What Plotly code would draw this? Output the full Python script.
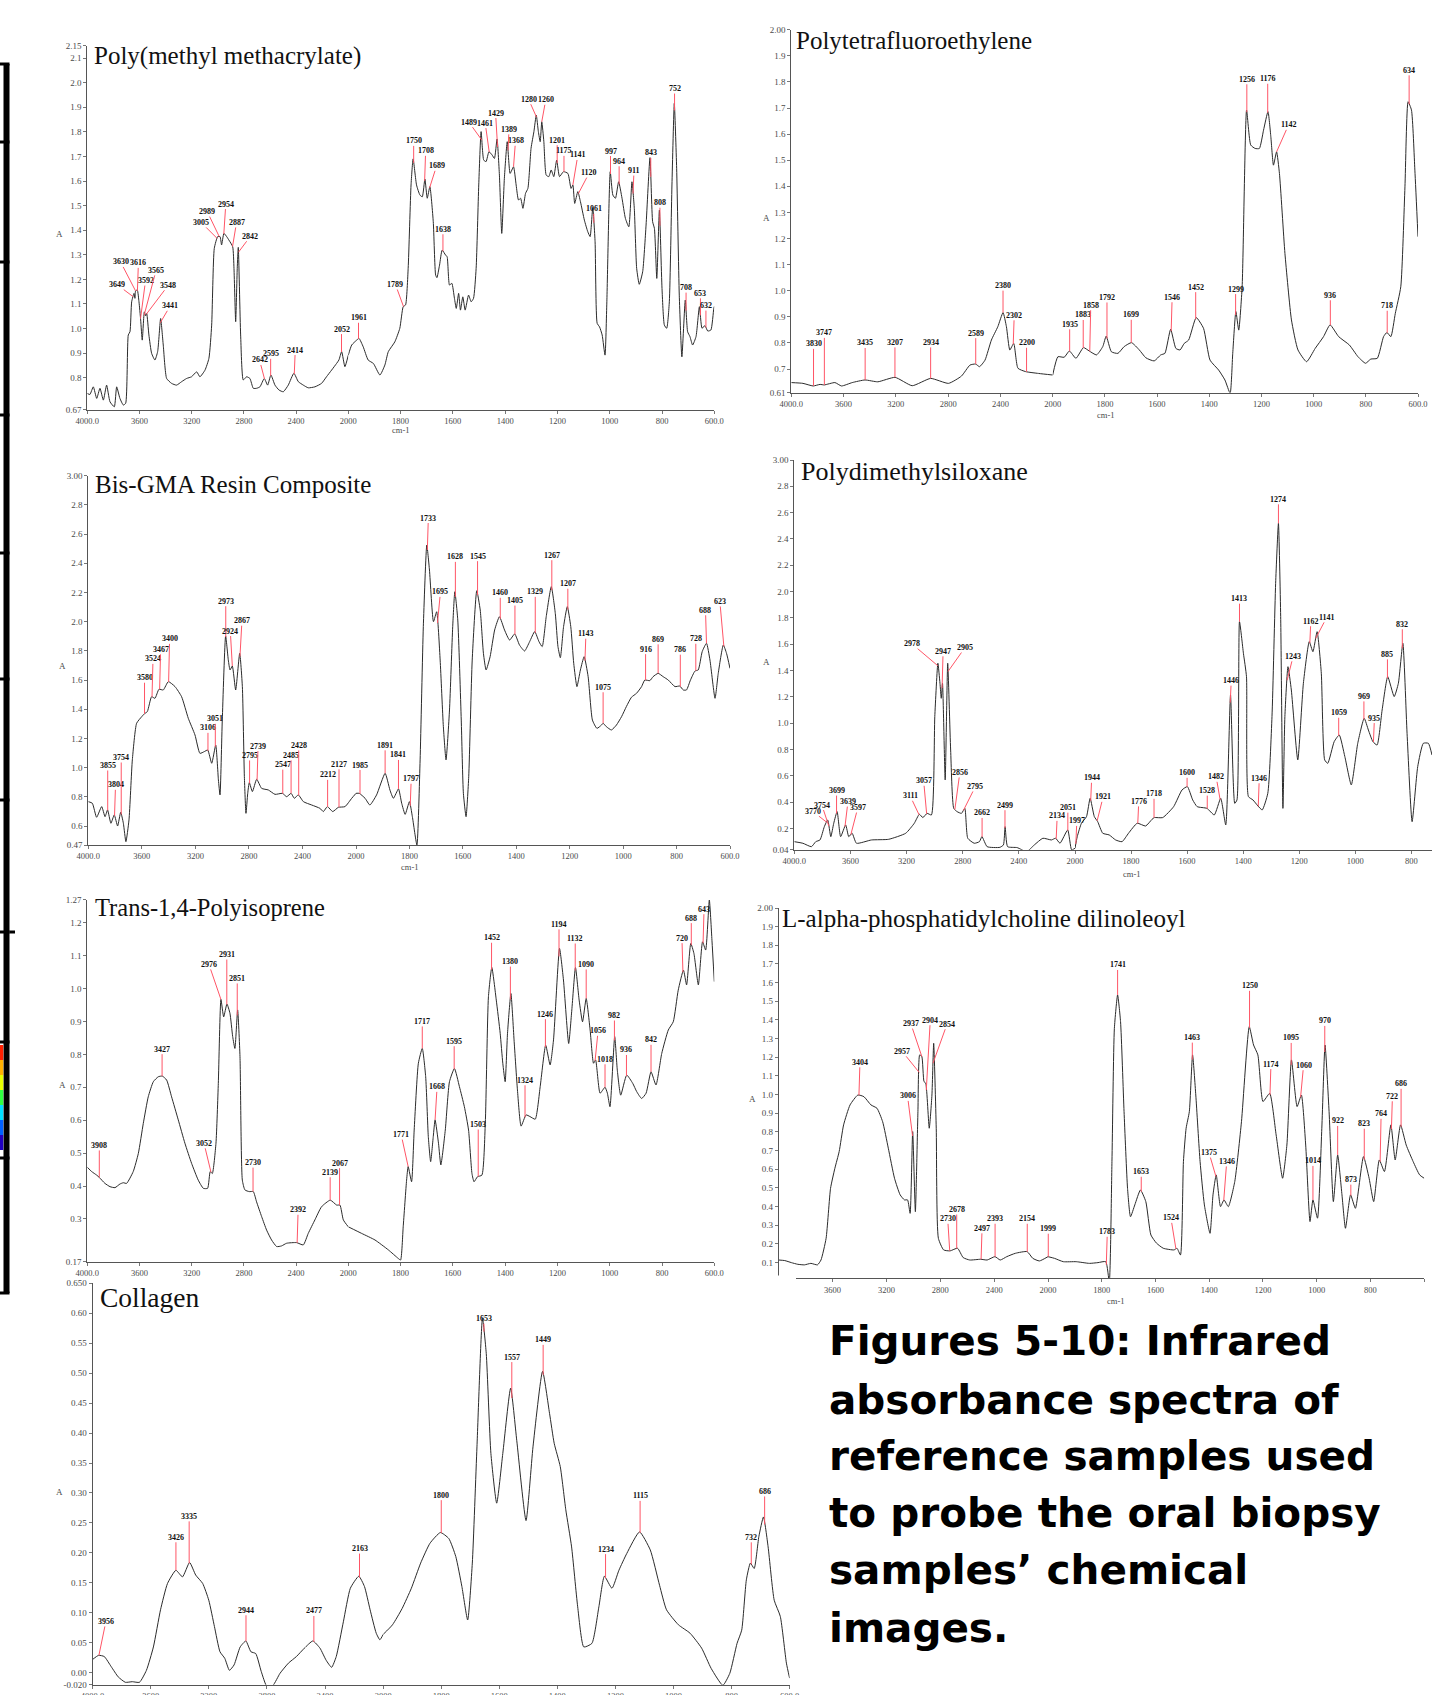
import numpy as np
import plotly.graph_objects as go

W, H = 1432, 1695

# ============================ DATA ============================
x_ticks_high = [4000, 3600, 3200, 2800, 2400, 2000]
x_ticktext_high = ["4000.0", "3600", "3200", "2800", "2400", "2000"]
x_ticks_low = [1800, 1600, 1400, 1200, 1000, 800, 600]
x_ticktext_low = ["1800", "1600", "1400", "1200", "1000", "800", "600.0"]

# ---- Poly(methyl methacrylate)
pmma_wn = [4000, 3980, 3954, 3928, 3903, 3877, 3852, 3826, 3793, 3775, 3750, 3724, 3706, 3686, 3673, 3660, 3642, 3635, 3630, 3617,
           3604, 3591, 3579, 3563, 3553, 3545, 3528, 3507, 3482, 3461, 3438, 3418, 3392, 3354, 3316, 3277, 3239, 3201, 3162, 3137,
           3098, 3068, 3047, 3027, 3001, 2983, 2971, 2953, 2932, 2915, 2886, 2876, 2863, 2851, 2843, 2825, 2805, 2779, 2754, 2728,
           2703, 2677, 2644, 2618, 2593, 2562, 2531, 2498, 2460, 2417, 2383, 2345, 2307, 2256, 2205, 2167, 2128, 2090, 2072, 2051,
           2026, 2000, 1987, 1968, 1959, 1943, 1924, 1904, 1879, 1860, 1847, 1822, 1803, 1790, 1781, 1771, 1760, 1752, 1739, 1726,
           1717, 1707, 1698, 1688, 1675, 1666, 1661, 1651, 1641, 1628, 1622, 1613, 1604, 1594, 1587, 1578, 1571, 1562, 1553, 1540,
           1530, 1521, 1511, 1501, 1492, 1482, 1473, 1462, 1450, 1441, 1431, 1422, 1413, 1403, 1392, 1381, 1368, 1358, 1349, 1341,
           1332, 1322, 1313, 1301, 1290, 1281, 1273, 1266, 1260, 1252, 1243, 1233, 1224, 1214, 1203, 1192, 1177, 1160, 1148, 1141,
           1134, 1122, 1112, 1097, 1084, 1075, 1065, 1056, 1048, 1039, 1029, 1018, 1011, 998, 988, 978, 966, 953, 940, 927,
           915, 906, 897, 887, 874, 861, 846, 836, 829, 820, 810, 800, 791, 782, 772, 762, 753, 744, 734, 724,
           711, 702, 693, 683, 670, 657, 647, 636, 625, 613, 602, 600]
pmma_abs = [0.736, 0.732, 0.763, 0.716, 0.757, 0.709, 0.770, 0.702, 0.682, 0.763, 0.716, 0.689, 0.696, 0.974, 0.987, 1.109, 1.143, 1.123, 1.153, 1.157,
            1.109, 1.035, 0.953, 1.068, 1.052, 1.062, 0.974, 0.899, 0.872, 0.906, 1.041, 0.933, 0.797, 0.777, 0.770, 0.784, 0.797, 0.804, 0.824, 0.804,
            0.831, 0.879, 1.014, 1.326, 1.374, 1.374, 1.340, 1.387, 1.374, 1.360, 1.333, 1.245, 1.028, 1.245, 1.330, 0.974, 0.791, 0.804, 0.797, 0.757,
            0.757, 0.763, 0.797, 0.770, 0.811, 0.770, 0.750, 0.743, 0.770, 0.818, 0.784, 0.770, 0.759, 0.763, 0.777, 0.804, 0.831, 0.858, 0.872, 0.906,
            0.845, 0.892, 0.933, 0.953, 0.960, 0.926, 0.872, 0.858, 0.811, 0.852, 0.906, 0.946, 1.001, 1.089, 1.096, 1.245, 1.584, 1.690, 1.584, 1.543,
            1.536, 1.608, 1.530, 1.577, 1.435, 1.218, 1.207, 1.258, 1.319, 1.299, 1.292, 1.177, 1.184, 1.123, 1.082, 1.143, 1.075, 1.129, 1.075, 1.136,
            1.109, 1.123, 1.245, 1.584, 1.801, 1.685, 1.679, 1.719, 1.706, 1.692, 1.771, 1.624, 1.387, 1.611, 1.760, 1.631, 1.658, 1.584, 1.523, 1.530,
            1.489, 1.550, 1.570, 1.733, 1.801, 1.868, 1.801, 1.760, 1.841, 1.760, 1.624, 1.618, 1.645, 1.618, 1.685, 1.618, 1.638, 1.631, 1.570, 1.584,
            1.509, 1.557, 1.516, 1.441, 1.394, 1.374, 1.492, 1.353, 1.021, 1.007, 0.974, 0.892, 1.109, 1.638, 1.543, 1.530, 1.597, 1.530, 1.448, 1.414,
            1.597, 1.489, 1.245, 1.180, 1.231, 1.421, 1.695, 1.435, 1.407, 1.204, 1.482, 1.163, 1.014, 1.001, 1.109, 1.584, 1.916, 1.652, 1.136, 0.885,
            1.116, 0.987, 0.967, 0.933, 0.967, 1.089, 1.001, 1.012, 0.990, 0.994, 1.082, 1.090]
pmma_peaks = [3649, 3630, 3616, 3592, 3565, 3548, 3441, 3005, 2989, 2954, 2887, 2842, 2642, 2595, 2414, 2052, 1961, 1789, 1750, 1708,
              1689, 1638, 1489, 1461, 1429, 1389, 1368, 1280, 1260, 1201, 1175, 1141, 1120, 1061, 997, 964, 911, 843, 808, 752,
              708, 653, 632]
pmma_yticks = [0.67, 0.8, 0.9, 1.0, 1.1, 1.2, 1.3, 1.4, 1.5, 1.6, 1.7, 1.8, 1.9, 2.0, 2.1, 2.15]
pmma_yticktext = ["0.67", "0.8", "0.9", "1.0", "1.1", "1.2", "1.3", "1.4", "1.5", "1.6", "1.7", "1.8", "1.9", "2.0", "2.1", "2.15"]

# ---- Polytetrafluoroethylene
ptfe_wn = [4000, 3911, 3833, 3780, 3748, 3666, 3616, 3534, 3436, 3338, 3206, 3075, 2934, 2797, 2698, 2633, 2590, 2560, 2518, 2469,
           2420, 2380, 2354, 2328, 2298, 2266, 2207, 2108, 2000, 1980, 1956, 1936, 1911, 1882, 1860, 1832, 1808, 1795, 1775, 1750,
           1726, 1698, 1668, 1643, 1611, 1586, 1570, 1548, 1528, 1512, 1496, 1479, 1450, 1422, 1397, 1364, 1340, 1320, 1310, 1298,
           1287, 1274, 1257, 1241, 1224, 1208, 1192, 1175, 1164, 1154, 1142, 1131, 1110, 1085, 1060, 1027, 994, 962, 937, 904,
           863, 830, 801, 781, 756, 732, 719, 704, 687, 666, 650, 638, 625, 612, 600]
ptfe_abs = [0.648, 0.645, 0.635, 0.641, 0.639, 0.648, 0.635, 0.648, 0.658, 0.651, 0.668, 0.636, 0.664, 0.645, 0.673, 0.715, 0.719, 0.709, 0.734, 0.811,
            0.862, 0.916, 0.862, 0.773, 0.798, 0.703, 0.690, 0.683, 0.677, 0.747, 0.745, 0.769, 0.741, 0.782, 0.769, 0.754, 0.786, 0.826, 0.766, 0.760,
            0.786, 0.801, 0.773, 0.743, 0.731, 0.754, 0.760, 0.852, 0.779, 0.773, 0.798, 0.811, 0.897, 0.856, 0.734, 0.696, 0.658, 0.607, 0.760, 0.920,
            0.849, 1.015, 1.692, 1.558, 1.545, 1.545, 1.615, 1.686, 1.590, 1.481, 1.532, 1.449, 1.143, 0.888, 0.773, 0.728, 0.779, 0.824, 0.869, 0.824,
            0.792, 0.747, 0.722, 0.738, 0.741, 0.824, 0.840, 0.824, 0.913, 1.015, 1.398, 1.724, 1.692, 1.462, 1.207]
ptfe_peaks = [3830, 3747, 3435, 3207, 2934, 2589, 2380, 2302, 2200, 1935, 1883, 1858, 1792, 1699, 1546, 1452, 1299, 1256, 1176, 1142,
              936, 718, 634]
ptfe_yticks = [0.61, 0.7, 0.8, 0.9, 1.0, 1.1, 1.2, 1.3, 1.4, 1.5, 1.6, 1.7, 1.8, 1.9, 2.0]
ptfe_yticktext = ["0.61", "0.7", "0.8", "0.9", "1.0", "1.1", "1.2", "1.3", "1.4", "1.5", "1.6", "1.7", "1.8", "1.9", "2.00"]

# ---- Bis-GMA Resin Composite
bis_wn = [4000, 3970, 3938, 3900, 3875, 3856, 3831, 3806, 3781, 3758, 3738, 3719, 3696, 3671, 3639, 3601, 3582, 3559, 3527, 3502,
          3472, 3440, 3402, 3352, 3303, 3253, 3203, 3166, 3133, 3108, 3078, 3048, 3028, 3016, 2999, 2974, 2954, 2941, 2924, 2899,
          2869, 2849, 2834, 2822, 2809, 2797, 2774, 2742, 2705, 2655, 2605, 2550, 2518, 2485, 2461, 2431, 2393, 2331, 2269, 2244,
          2214, 2174, 2132, 2082, 2032, 2000, 1988, 1966, 1948, 1923, 1891, 1873, 1860, 1841, 1829, 1816, 1800, 1789, 1772, 1760,
          1748, 1735, 1725, 1710, 1698, 1685, 1673, 1663, 1650, 1638, 1630, 1619, 1606, 1598, 1588, 1578, 1565, 1548, 1535, 1523,
          1513, 1498, 1481, 1463, 1444, 1425, 1406, 1388, 1369, 1350, 1331, 1315, 1303, 1288, 1269, 1254, 1244, 1235, 1223, 1209,
          1196, 1185, 1173, 1160, 1146, 1131, 1115, 1098, 1081, 1075, 1063, 1044, 1025, 1006, 988, 969, 950, 931, 919, 900,
          888, 869, 850, 831, 806, 788, 775, 763, 748, 731, 719, 704, 688, 675, 656, 644, 625, 613, 600]
bis_abs = [0.767, 0.756, 0.660, 0.733, 0.664, 0.710, 0.619, 0.676, 0.600, 0.694, 0.619, 0.493, 0.642, 1.053, 1.304, 1.349, 1.368, 1.384, 1.486, 1.475,
           1.537, 1.532, 1.589, 1.555, 1.486, 1.338, 1.224, 1.098, 1.110, 1.121, 1.030, 1.155, 0.916, 0.813, 1.326, 1.902, 1.737, 1.669, 1.696, 1.532,
           1.783, 1.555, 0.938, 0.687, 0.824, 0.897, 0.836, 0.920, 0.858, 0.847, 0.817, 0.824, 0.801, 0.824, 0.790, 0.813, 0.767, 0.744, 0.721, 0.699,
           0.733, 0.699, 0.728, 0.733, 0.790, 0.824, 0.824, 0.790, 0.744, 0.813, 0.961, 0.847, 0.790, 0.854, 0.756, 0.680, 0.767, 0.664, 0.470, 1.053,
           1.966, 2.525, 2.354, 2.000, 2.068, 1.737, 1.281, 1.053, 1.395, 1.966, 2.205, 2.011, 1.326, 0.824, 0.664, 0.938, 1.737, 2.212, 2.080, 1.783,
           1.669, 1.760, 1.943, 2.034, 1.943, 1.874, 1.916, 1.840, 1.799, 1.863, 1.932, 1.863, 1.829, 2.034, 2.240, 2.057, 1.829, 1.753, 1.966, 2.103,
           1.966, 1.715, 1.555, 1.669, 1.760, 1.623, 1.326, 1.269, 1.292, 1.304, 1.281, 1.258, 1.292, 1.349, 1.418, 1.482, 1.509, 1.555, 1.600, 1.596,
           1.623, 1.646, 1.623, 1.600, 1.555, 1.559, 1.532, 1.532, 1.600, 1.662, 1.669, 1.795, 1.852, 1.737, 1.475, 1.646, 1.840, 1.783, 1.680]
bis_peaks = [3855, 3804, 3754, 3580, 3524, 3467, 3400, 3106, 3051, 2973, 2924, 2867, 2795, 2739, 2547, 2485, 2428, 2212, 2127, 1985,
             1891, 1841, 1797, 1733, 1695, 1628, 1545, 1460, 1405, 1329, 1267, 1207, 1143, 1075, 916, 869, 786, 728, 688, 623]
bis_yticks = [0.47, 0.6, 0.8, 1.0, 1.2, 1.4, 1.6, 1.8, 2.0, 2.2, 2.4, 2.6, 2.8, 3.0]
bis_yticktext = ["0.47", "0.6", "0.8", "1.0", "1.2", "1.4", "1.6", "1.8", "2.0", "2.2", "2.4", "2.6", "2.8", "3.00"]

# ---- Polydimethylsiloxane
pdms_wn = [4000, 3939, 3878, 3847, 3817, 3786, 3762, 3740, 3719, 3695, 3670, 3634, 3612, 3588, 3557, 3450, 3328, 3206, 3145, 3109,
           3084, 3054, 3023, 2999, 2977, 2962, 2953, 2944, 2925, 2907, 2886, 2864, 2840, 2809, 2785, 2764, 2718, 2681, 2663, 2626,
           2535, 2510, 2498, 2480, 2412, 2345, 2290, 2229, 2168, 2138, 2107, 2052, 2024, 2000, 1992, 1977, 1959, 1946, 1931, 1919,
           1901, 1878, 1855, 1832, 1809, 1778, 1748, 1725, 1717, 1687, 1648, 1618, 1599, 1580, 1564, 1529, 1503, 1480, 1462, 1445,
           1430, 1422, 1413, 1399, 1388, 1381, 1365, 1347, 1332, 1312, 1297, 1284, 1274, 1266, 1258, 1251, 1240, 1228, 1205, 1185,
           1164, 1151, 1136, 1121, 1109, 1098, 1075, 1057, 1037, 1014, 991, 968, 953, 937, 922, 904, 884, 861, 846, 830,
           815, 797, 777, 757, 739, 726]
pdms_abs = [0.101, 0.089, 0.063, 0.101, 0.114, 0.215, 0.266, 0.139, 0.241, 0.329, 0.139, 0.228, 0.139, 0.165, 0.089, 0.114, 0.119, 0.165, 0.241, 0.309,
            0.284, 0.316, 0.304, 1.051, 1.456, 1.304, 1.190, 1.304, 0.570, 1.456, 0.797, 0.354, 0.329, 0.316, 0.354, 0.127, 0.089, 0.101, 0.139, 0.063,
            0.058, 0.076, 0.215, 0.063, 0.056, 0.025, 0.076, 0.127, 0.114, 0.127, 0.089, 0.190, 0.038, 0.051, 0.139, 0.241, 0.291, 0.430, 0.291, 0.253,
            0.165, 0.152, 0.114, 0.101, 0.165, 0.241, 0.220, 0.271, 0.284, 0.284, 0.367, 0.494, 0.519, 0.418, 0.367, 0.354, 0.304, 0.430, 0.228, 1.215,
            0.392, 0.418, 1.772, 1.532, 1.354, 0.443, 0.418, 0.372, 0.342, 0.468, 1.051, 2.063, 2.519, 1.810, 0.354, 1.051, 1.430, 1.253, 0.722, 1.304,
            1.620, 1.544, 1.696, 1.380, 0.722, 0.696, 0.861, 0.911, 0.747, 0.532, 0.848, 1.038, 0.949, 0.861, 0.835, 1.101, 1.354, 1.203, 1.304, 1.608,
            0.924, 0.253, 0.671, 0.848, 0.848, 0.759]
pdms_peaks = [3770, 3754, 3699, 3639, 3597, 3111, 3057, 2978, 2947, 2905, 2856, 2795, 2662, 2499, 2344, 2134, 2051, 1997, 1944, 1921,
              1776, 1718, 1600, 1528, 1482, 1446, 1413, 1346, 1274, 1243, 1162, 1141, 1059, 969, 935, 885, 832]
pdms_yticks = [0.04, 0.2, 0.4, 0.6, 0.8, 1.0, 1.2, 1.4, 1.6, 1.8, 2.0, 2.2, 2.4, 2.6, 2.8, 3.0]
pdms_yticktext = ["0.04", "0.2", "0.4", "0.6", "0.8", "1.0", "1.2", "1.4", "1.6", "1.8", "2.0", "2.2", "2.4", "2.6", "2.8", "3.00"]

# ---- Trans-1,4-Polyisoprene
trans_wn = [4000, 3967, 3928, 3908, 3865, 3826, 3788, 3750, 3724, 3699, 3648, 3609, 3571, 3533, 3494, 3456, 3425, 3392, 3354, 3303,
            3252, 3201, 3150, 3111, 3078, 3058, 3042, 3014, 2996, 2976, 2955, 2930, 2907, 2886, 2869, 2848, 2830, 2812, 2792, 2759,
            2728, 2703, 2664, 2626, 2588, 2549, 2511, 2473, 2396, 2345, 2307, 2256, 2205, 2138, 2089, 2064, 2038, 2000, 1949, 1898,
            1847, 1809, 1800, 1790, 1777, 1771, 1758, 1748, 1732, 1717, 1704, 1694, 1685, 1675, 1668, 1655, 1646, 1629, 1613, 1594,
            1575, 1556, 1540, 1527, 1519, 1506, 1489, 1476, 1464, 1451, 1434, 1419, 1409, 1400, 1391, 1378, 1366, 1353, 1339, 1320,
            1305, 1285, 1266, 1245, 1228, 1215, 1192, 1177, 1157, 1145, 1131, 1117, 1104, 1090, 1075, 1062, 1054, 1037, 1018, 1009,
            999, 981, 971, 958, 935, 912, 897, 878, 861, 842, 823, 801, 776, 757, 738, 718, 706, 690, 678, 661,
            645, 633, 619, 609, 600]
trans_abs = [0.457, 0.444, 0.433, 0.426, 0.408, 0.398, 0.395, 0.406, 0.410, 0.408, 0.444, 0.499, 0.590, 0.671, 0.717, 0.732, 0.734, 0.722, 0.671, 0.601,
             0.530, 0.469, 0.418, 0.393, 0.393, 0.444, 0.438, 0.530, 0.712, 0.967, 0.914, 0.953, 0.925, 0.854, 0.818, 0.935, 0.793, 0.418, 0.388, 0.383,
             0.383, 0.352, 0.307, 0.266, 0.236, 0.216, 0.218, 0.226, 0.228, 0.221, 0.256, 0.297, 0.337, 0.357, 0.342, 0.342, 0.297, 0.276, 0.256, 0.236,
             0.206, 0.180, 0.175, 0.276, 0.418, 0.459, 0.413, 0.570, 0.773, 0.818, 0.732, 0.550, 0.474, 0.550, 0.601, 0.530, 0.464, 0.570, 0.717, 0.757,
             0.702, 0.641, 0.570, 0.438, 0.413, 0.428, 0.433, 0.590, 0.975, 1.064, 0.965, 0.864, 0.773, 0.717, 0.864, 0.985, 0.844, 0.692, 0.582, 0.616,
             0.611, 0.603, 0.702, 0.828, 0.768, 0.844, 1.122, 1.026, 0.833, 0.935, 1.064, 0.965, 0.899, 0.970, 0.874, 0.773, 0.783, 0.682, 0.700, 0.682,
             0.641, 0.854, 0.752, 0.676, 0.737, 0.712, 0.687, 0.666, 0.682, 0.747, 0.707, 0.803, 0.874, 0.899, 0.995, 1.056, 1.011, 1.137, 1.107, 1.011,
             1.142, 1.117, 1.269, 1.147, 1.021]
trans_peaks = [3908, 3427, 3052, 2976, 2931, 2851, 2730, 2392, 2139, 2067, 1771, 1717, 1668, 1595, 1503, 1452, 1380, 1324, 1246, 1194,
               1132, 1090, 1056, 1018, 982, 936, 842, 720, 688, 643]
trans_yticks = [0.17, 0.3, 0.4, 0.5, 0.6, 0.7, 0.8, 0.9, 1.0, 1.1, 1.2, 1.27]
trans_yticktext = ["0.17", "0.3", "0.4", "0.5", "0.6", "0.7", "0.8", "0.9", "1.0", "1.1", "1.2", "1.27"]

# ---- L-alpha-phosphatidylcholine dilinoleoyl
lpc_wn = [4000, 3955, 3906, 3858, 3809, 3761, 3712, 3686, 3648, 3615, 3583, 3551, 3518, 3470, 3412, 3367, 3315, 3270, 3228, 3186,
          3140, 3098, 3066, 3043, 3024, 3005, 2985, 2966, 2953, 2937, 2921, 2908, 2882, 2862, 2849, 2830, 2814, 2775, 2727, 2672,
          2630, 2581, 2500, 2452, 2394, 2355, 2306, 2242, 2155, 2113, 2064, 2000, 1976, 1943, 1895, 1846, 1814, 1785, 1772, 1762,
          1753, 1741, 1730, 1717, 1704, 1693, 1677, 1656, 1636, 1617, 1596, 1571, 1531, 1520, 1507, 1496, 1486, 1474, 1462, 1450,
          1434, 1418, 1397, 1386, 1374, 1358, 1345, 1329, 1305, 1280, 1251, 1235, 1219, 1200, 1175, 1151, 1127, 1111, 1094, 1073,
          1057, 1041, 1025, 1014, 997, 981, 969, 954, 938, 922, 906, 893, 874, 856, 826, 805, 788, 767, 748, 724,
          708, 688, 667, 641, 617, 600]
lpc_abs = [0.114, 0.111, 0.100, 0.091, 0.088, 0.096, 0.088, 0.114, 0.230, 0.498, 0.605, 0.695, 0.838, 0.945, 0.998, 0.989, 0.945, 0.927, 0.855, 0.713,
           0.552, 0.463, 0.436, 0.436, 0.364, 0.802, 0.373, 0.909, 1.213, 1.204, 1.070, 1.061, 0.820, 0.998, 1.275, 0.820, 0.230, 0.168, 0.163, 0.177,
           0.127, 0.114, 0.118, 0.114, 0.132, 0.114, 0.132, 0.150, 0.159, 0.123, 0.109, 0.132, 0.123, 0.105, 0.105, 0.096, 0.100, 0.105, -0.002, 0.641,
           1.355, 1.534, 1.391, 0.909, 0.498, 0.346, 0.409, 0.489, 0.427, 0.248, 0.204, 0.177, 0.168, 0.177, 0.141, 0.641, 0.820, 0.909, 1.213, 0.998,
           0.641, 0.409, 0.257, 0.463, 0.570, 0.400, 0.436, 0.400, 0.534, 0.855, 1.364, 1.266, 1.213, 0.963, 1.007, 0.784, 0.552, 0.730, 1.186, 0.936,
           0.998, 0.730, 0.320, 0.436, 0.338, 0.820, 1.266, 0.909, 0.427, 0.677, 0.463, 0.284, 0.463, 0.391, 0.668, 0.552, 0.427, 0.650, 0.588, 0.838,
           0.650, 0.838, 0.730, 0.641, 0.570, 0.552]
lpc_peaks = [3404, 3006, 2957, 2937, 2904, 2854, 2730, 2678, 2497, 2393, 2154, 1999, 1783, 1741, 1653, 1524, 1463, 1375, 1346, 1250,
             1174, 1095, 1060, 1014, 970, 922, 873, 823, 764, 722, 686]
lpc_yticks = [0.1, 0.2, 0.3, 0.4, 0.5, 0.6, 0.7, 0.8, 0.9, 1.0, 1.1, 1.2, 1.3, 1.4, 1.5, 1.6, 1.7, 1.8, 1.9, 2.0]
lpc_yticktext = ["0.1", "0.2", "0.3", "0.4", "0.5", "0.6", "0.7", "0.8", "0.9", "1.0", "1.1", "1.2", "1.3", "1.4", "1.5", "1.6", "1.7",
                 "1.8", "1.9", "2.00"]

# ---- Collagen
col_wn = [4000, 3958, 3919, 3871, 3823, 3774, 3726, 3677, 3629, 3581, 3532, 3484, 3426, 3381, 3332, 3290, 3242, 3200, 3161, 3123,
          3090, 3058, 3026, 2984, 2945, 2910, 2877, 2839, 2800, 2758, 2710, 2652, 2597, 2542, 2484, 2435, 2393, 2355, 2323, 2274,
          2226, 2168, 2129, 2090, 2048, 2023, 2000, 1968, 1935, 1903, 1871, 1839, 1803, 1774, 1750, 1729, 1709, 1693, 1677, 1658,
          1645, 1629, 1609, 1588, 1561, 1540, 1508, 1484, 1451, 1427, 1411, 1390, 1371, 1351, 1330, 1309, 1281, 1257, 1238, 1212,
          1188, 1161, 1117, 1080, 1048, 1024, 983, 943, 903, 870, 830, 806, 781, 765, 749, 735, 722, 706, 690, 674,
          653, 632, 611, 600]
col_abs = [0.022, 0.029, 0.027, 0.010, -0.007, -0.016, -0.015, -0.016, 0.004, 0.043, 0.105, 0.149, 0.171, 0.160, 0.184, 0.163, 0.149, 0.121, 0.077, 0.035,
           0.024, 0.004, 0.013, 0.043, 0.053, 0.035, 0.032, 0.002, -0.023, -0.021, -0.001, 0.016, 0.027, 0.041, 0.053, 0.041, 0.021, 0.009, 0.027, 0.085,
           0.141, 0.161, 0.144, 0.105, 0.066, 0.055, 0.064, 0.080, 0.107, 0.141, 0.183, 0.216, 0.234, 0.224, 0.194, 0.144, 0.088, 0.183, 0.377, 0.592,
           0.533, 0.366, 0.283, 0.366, 0.475, 0.388, 0.254, 0.377, 0.503, 0.433, 0.383, 0.344, 0.272, 0.210, 0.110, 0.043, 0.049, 0.110, 0.161, 0.141,
           0.171, 0.199, 0.235, 0.205, 0.146, 0.105, 0.080, 0.066, 0.041, 0.007, -0.021, -0.001, 0.049, 0.071, 0.155, 0.183, 0.174, 0.227, 0.260, 0.210,
           0.121, 0.094, 0.016, -0.009]
col_peaks = [3956, 3426, 3335, 2944, 2477, 2163, 1800, 1653, 1557, 1449, 1234, 1115, 732, 686]
col_yticks = [-0.02, 0.0, 0.05, 0.10, 0.15, 0.20, 0.25, 0.30, 0.35, 0.40, 0.45, 0.50, 0.55, 0.60, 0.65]
col_yticktext = ["-0.020", "0.00", "0.05", "0.10", "0.15", "0.20", "0.25", "0.30", "0.35", "0.40", "0.45", "0.50", "0.55", "0.60",
                 "0.650"]

caption_lines = ["Figures 5-10: Infrared", "absorbance spectra of", "reference samples used",
                 "to probe the oral biopsy", "samples’ chemical", "images."]

# ============================ STYLE / LAYOUT ============================
LINE_COLOR = "#2b2b2b"
AXIS_COLOR = "#555555"
PEAK_COLOR = "#ff5566"
SERIF = "Liberation Serif"

# label offsets in pixels (dx, dy) from the marked point to the label centre
pmma_off = {3649: (-16, -12), 3630: (-15, -29), 3616: (1, -28), 3592: (5, -38), 3565: (12, -45), 3548: (22, -29), 3441: (10, -17),
            3005: (-16, -16), 2989: (-12, -25), 2954: (2, -30), 2887: (4, -24), 2842: (12, -16), 2642: (-5, -19), 2595: (0, -22),
            2414: (1, -24), 2052: (0, -23), 1961: (0, -21), 1789: (-8, -22), 1750: (0, -22), 1708: (1, -30), 1689: (7, -22),
            1638: (0, -22), 1489: (-13, -18), 1461: (-4, -29), 1429: (-2, -34), 1389: (1, -21), 1368: (2, -26), 1280: (-8, -18),
            1260: (4, -22), 1201: (0, -23), 1175: (0, -21), 1141: (5, -30), 1120: (11, -21), 1061: (0, -14), 997: (0, -23),
            964: (0, -23), 911: (1, -23), 843: (0, -24), 808: (0, -23), 752: (0, -22), 708: (0, -23), 653: (0, -22), 632: (0, -22)}
ptfe_off = {3830: (0, -42), 3747: (0, -52), 3435: (0, -37), 3207: (0, -35), 2934: (0, -36), 2589: (0, -31), 2380: (0, -27),
            2302: (1, -29), 2200: (0, -29), 1935: (0, -27), 1883: (0, -33), 1858: (1, -46), 1792: (0, -41), 1699: (0, -28),
            1546: (1, -34), 1452: (0, -32), 1299: (0, -26), 1256: (0, -33), 1176: (0, -34), 1142: (12, -27), 936: (0, -30),
            718: (0, -27), 634: (0, -34)}
bis_off = {3855: (0, -45), 3804: (1, -31), 3754: (0, -57), 3580: (0, -36), 3524: (1, -38), 3467: (1, -40), 3400: (1, -43),
           3106: (0, -23), 3051: (0, -28), 2973: (0, -36), 2924: (-2, -35), 2867: (2, -36), 2795: (0, -28), 2739: (1, -34),
           2547: (0, -29), 2485: (0, -38), 2428: (0, -50), 2212: (0, -32), 2127: (0, -43), 1985: (0, -29), 1891: (0, -28),
           1841: (0, -34), 1797: (1, -27), 1733: (1, -32), 1695: (3, -31), 1628: (0, -40), 1545: (0, -39), 1460: (0, -26),
           1405: (0, -34), 1329: (0, -41), 1267: (0, -35), 1207: (0, -26), 1143: (1, -27), 1075: (0, -36), 916: (0, -31),
           869: (0, -34), 786: (0, -37), 728: (0, -32), 688: (-1, -33), 623: (-4, -45)}
pdms_off = {3770: (-14, -11), 3754: (-7, -21), 3699: (0, -23), 3639: (3, -25), 3597: (7, -27), 3111: (-9, -19), 3057: (-3, -33),
            2978: (-26, -22), 2947: (1, -37), 2905: (17, -24), 2856: (5, -37), 2795: (12, -24), 2662: (0, -24), 2499: (0, -23),
            2344: (0, -24), 2134: (1, -23), 2051: (0, -23), 1997: (1, -23), 1944: (1, -23), 1921: (6, -24), 1776: (1, -22),
            1718: (0, -24), 1600: (0, -14), 1528: (0, -18), 1482: (-4, -23), 1446: (1, -22), 1413: (0, -23), 1346: (1, -28),
            1274: (0, -24), 1243: (6, -24), 1162: (1, -22), 1141: (11, -21), 1059: (0, -23), 969: (0, -23), 935: (1, -24),
            885: (0, -24), 832: (0, -24)}
trans_off = {3908: (0, -32), 3427: (0, -27), 3052: (-7, -29), 2976: (-12, -35), 2931: (0, -50), 2851: (0, -37), 2730: (0, -29),
             2392: (1, -33), 2139: (0, -28), 2067: (0, -42), 1771: (-7, -32), 1717: (0, -27), 1668: (2, -33), 1595: (0, -28),
             1503: (0, -52), 1452: (0, -32), 1380: (0, -38), 1324: (0, -37), 1246: (0, -33), 1194: (0, -32), 1132: (0, -32),
             1090: (0, -34), 1056: (3, -30), 1018: (0, -28), 982: (0, -25), 936: (0, -26), 842: (0, -32), 720: (-1, -34),
             688: (0, -27), 643: (1, -34)}
lpc_off = {3404: (1, -33), 3006: (-5, -40), 2957: (-17, -21), 2937: (-11, -33), 2904: (4, -70), 2854: (14, -39), 2730: (-2, -32),
           2678: (0, -39), 2497: (1, -31), 2393: (0, -38), 2154: (0, -33), 1999: (0, -28), 1783: (1, -33), 1741: (0, -30),
           1653: (0, -20), 1524: (-5, -31), 1463: (0, -22), 1375: (-7, -24), 1346: (3, -39), 1250: (0, -42), 1174: (1, -31),
           1095: (0, -27), 1060: (3, -32), 1014: (0, -39), 970: (0, -31), 922: (0, -34), 873: (0, -16), 823: (0, -36),
           764: (1, -48), 722: (1, -33), 686: (0, -43)}
col_off = {3956: (7, -34), 3426: (0, -33), 3335: (0, -47), 2944: (0, -31), 2477: (0, -31), 2163: (0, -29), 1800: (0, -38),
           1653: (0, -13), 1557: (0, -41), 1449: (0, -35), 1234: (0, -29), 1115: (0, -37), 732: (0, -27), 686: (0, -33)}

panels = [
    dict(title="Poly(methyl methacrylate)", wn=pmma_wn, ab=pmma_abs, peaks=pmma_peaks, off=pmma_off,
         yticks=pmma_yticks, yticktext=pmma_yticktext, yrange=[0.67, 2.15],
         px=(87.3, 348.3, 714.3), py=(45.8, 409.7), xlow_end=600,
         title_xy=(91.7, 56), title_size=25, a_xy=(60, 234), cm_xy=(400, 430), hide_first=False),
    dict(title="Polytetrafluoroethylene", wn=ptfe_wn, ab=ptfe_abs, peaks=ptfe_peaks, off=ptfe_off,
         yticks=ptfe_yticks, yticktext=ptfe_yticktext, yrange=[0.61, 2.00],
         px=(791.3, 1052.7, 1418), py=(29.7, 392.5), xlow_end=600,
         title_xy=(794.3, 40), title_size=25, a_xy=(766, 218), cm_xy=(1105, 415), hide_first=False),
    dict(title="Bis-GMA Resin Composite", wn=bis_wn, ab=bis_abs, peaks=bis_peaks, off=bis_off,
         yticks=bis_yticks, yticktext=bis_yticktext, yrange=[0.47, 3.00],
         px=(88.3, 356, 730), py=(475.7, 845), xlow_end=600,
         title_xy=(93.3, 485), title_size=25, a_xy=(62, 666), cm_xy=(409, 867), hide_first=False),
    dict(title="Polydimethylsiloxane", wn=pdms_wn, ab=pdms_abs, peaks=pdms_peaks, off=pdms_off,
         yticks=pdms_yticks, yticktext=pdms_yticktext, yrange=[0.04, 3.00],
         px=(794.3, 1075, 1432), py=(460, 849.7), xlow_end=726,
         title_xy=(799.4, 471.7), title_size=26, a_xy=(766, 662), cm_xy=(1131, 874), hide_first=False),
    dict(title="Trans-1,4-Polyisoprene", wn=trans_wn, ab=trans_abs, peaks=trans_peaks, off=trans_off,
         yticks=trans_yticks, yticktext=trans_yticktext, yrange=[0.17, 1.27],
         px=(87.3, 348.3, 714.3), py=(899.7, 1261.7), xlow_end=600,
         title_xy=(93.3, 907.7), title_size=24.5, a_xy=(62, 1085), cm_xy=None, hide_first=False),
    dict(title="L-alpha-phosphatidylcholine dilinoleoyl", wn=lpc_wn, ab=lpc_abs, peaks=lpc_peaks, off=lpc_off,
         yticks=lpc_yticks, yticktext=lpc_yticktext, yrange=[0.016, 2.00],
         px=(778.7, 1048, 1424.2), py=(908, 1278.3), xlow_end=600,
         title_xy=(780.4, 918), title_size=25, a_xy=(752, 1099), cm_xy=(1115, 1301), hide_first=True),
    dict(title="Collagen", wn=col_wn, ab=col_abs, peaks=col_peaks, off=col_off,
         yticks=col_yticks, yticktext=col_yticktext, yrange=[-0.02, 0.65],
         px=(92.5, 383.2, 789.6), py=(1283.3, 1684.7), xlow_end=600,
         title_xy=(98.1, 1297.5), title_size=27.5, a_xy=(60, 1492), cm_xy=None, hide_first=False),
]


def fx(p):
    return p / W


def fy(p):
    return 1 - p / H


def ax_key(letter, i):
    return f"{letter}axis" if i == 1 else f"{letter}axis{i}"


def ax_ref(letter, i):
    return letter if i == 1 else f"{letter}{i}"


fig = go.Figure()
layout = dict(template="none", width=W, height=H,
              margin=dict(l=0, r=0, t=0, b=0, pad=0, autoexpand=False),
              paper_bgcolor="white", plot_bgcolor="rgba(0,0,0,0)", showlegend=False,
              font=dict(family=SERIF, color="#333333"))
annotations = []
shapes = []

tickfont_y = dict(family=SERIF, size=9, color="#4a4a4a")
tickfont_x = dict(family=SERIF, size=8.5, color="#4a4a4a")

for k, p in enumerate(panels, start=1):
    assert len(p["wn"]) == len(p["ab"]), p["title"]
    iL, iR = 2 * k - 1, 2 * k
    xL, xR, yk = ax_ref("x", iL), ax_ref("x", iR), ax_ref("y", k)
    x0, xm, x1 = p["px"]
    ytop, ybot = p["py"]

    common_x = dict(showline=True, linecolor=AXIS_COLOR, linewidth=1, ticks="outside", ticklen=3,
                    tickcolor="#777777", tickwidth=1, tickfont=tickfont_x, showgrid=False, zeroline=False,
                    fixedrange=True, anchor=yk, automargin=False)
    hv = x_ticks_high[1:] if p["hide_first"] else x_ticks_high
    ht = x_ticktext_high[1:] if p["hide_first"] else x_ticktext_high
    layout[ax_key("x", iL)] = dict(common_x, domain=[fx(x0), fx(xm)], range=[4000, 2000],
                                   tickmode="array", tickvals=hv, ticktext=ht)
    layout[ax_key("x", iR)] = dict(common_x, domain=[fx(xm), fx(x1)], range=[2000, p["xlow_end"]],
                                   tickmode="array", tickvals=x_ticks_low, ticktext=x_ticktext_low)
    layout[ax_key("y", k)] = dict(domain=[fy(ybot), fy(ytop)], range=p["yrange"], anchor=xL,
                                  showline=True, linecolor=AXIS_COLOR, linewidth=1, ticks="outside", ticklen=3,
                                  tickcolor="#777777", tickfont=tickfont_y, tickmode="array",
                                  tickvals=p["yticks"], ticktext=p["yticktext"], showgrid=False,
                                  zeroline=False, fixedrange=True, automargin=False)

    wn = np.array(p["wn"], dtype=float)
    ab = np.array(p["ab"], dtype=float)
    hi = wn >= 2000
    lo = wn <= 2000
    line = dict(color=LINE_COLOR, width=1, shape="spline", smoothing=0.5)
    fig.add_trace(go.Scatter(x=wn[hi], y=ab[hi], mode="lines", line=line, xaxis=xL, yaxis=yk,
                             hoverinfo="skip", showlegend=False))
    fig.add_trace(go.Scatter(x=wn[lo], y=ab[lo], mode="lines", line=line, xaxis=xR, yaxis=yk,
                             hoverinfo="skip", showlegend=False))

    # peak labels with red leader lines
    for pk in p["peaks"]:
        tip = float(np.interp(pk, wn[::-1], ab[::-1]))
        dx, dy = p["off"].get(pk, (0, -25))
        annotations.append(dict(x=pk, y=tip, xref=xL if pk >= 2000 else xR, yref=yk,
                                text=f"<b>{pk}</b>", showarrow=True, arrowhead=0, arrowwidth=1,
                                arrowcolor=PEAK_COLOR, standoff=0, startstandoff=0, ax=dx, ay=dy,
                                font=dict(family=SERIF, size=8, color="#111111"), borderpad=0))

    # titles and axis captions
    tx, ty = p["title_xy"]
    annotations.append(dict(x=fx(tx), y=fy(ty), xref="paper", yref="paper", xanchor="left", yanchor="middle",
                            text=p["title"], showarrow=False,
                            font=dict(family=SERIF, size=p["title_size"], color="#111111")))
    axx, axy = p["a_xy"]
    annotations.append(dict(x=fx(axx), y=fy(axy), xref="paper", yref="paper", xanchor="center", yanchor="middle",
                            text="A", showarrow=False, font=dict(family=SERIF, size=9, color="#4a4a4a")))
    if p["cm_xy"] is not None:
        cx, cy = p["cm_xy"]
        annotations.append(dict(x=fx(cx), y=fy(cy), xref="paper", yref="paper", xanchor="center",
                                yanchor="middle", text="cm-1", showarrow=False,
                                font=dict(family=SERIF, size=8.5, color="#4a4a4a")))

# caption block
cap_centres = [1341.3, 1399.6, 1455.8, 1513.1, 1570.4, 1627.7]
for txt, cyp in zip(caption_lines, cap_centres):
    annotations.append(dict(x=fx(826.6), y=fy(cyp), xref="paper", yref="paper", xanchor="left", yanchor="middle",
                            text=f"<b>{txt}</b>", showarrow=False,
                            font=dict(family="DejaVu Sans", size=40.5, color="#000000")))

# mask: the L-alpha x axis line starts a little right of its y axis in the original
shapes.append(dict(type="rect", xref="paper", yref="paper", x0=fx(775), x1=fx(796), y0=fy(1292), y1=fy(1275.5),
                   fillcolor="white", line=dict(width=0), layer="above"))

# decorative slide frame at left edge
shapes.append(dict(type="rect", xref="paper", yref="paper", x0=fx(3.5), x1=fx(9.5), y0=fy(1293), y1=fy(64),
                   fillcolor="black", line=dict(width=0)))
for ty_ in [64, 142, 262, 415, 553, 679, 800, 932, 1042, 1158, 1293]:
    shapes.append(dict(type="rect", xref="paper", yref="paper", x0=0, x1=fx(9.5), y0=fy(ty_ + 1.5),
                       y1=fy(ty_ - 1.5), fillcolor="black", line=dict(width=0)))
shapes.append(dict(type="rect", xref="paper", yref="paper", x0=fx(9.5), x1=fx(15), y0=fy(933.5), y1=fy(930.5),
                   fillcolor="black", line=dict(width=0)))
rainbow = ["#ff2000", "#ffb000", "#e8ff00", "#30ff40", "#00e0ff", "#0060ff", "#2000c0"]
seg = (1150 - 1045) / len(rainbow)
for i, c in enumerate(rainbow):
    shapes.append(dict(type="rect", xref="paper", yref="paper", x0=0, x1=fx(3.2),
                       y0=fy(1045 + (i + 1) * seg), y1=fy(1045 + i * seg), fillcolor=c, line=dict(width=0)))

layout["annotations"] = annotations
layout["shapes"] = shapes
fig.update_layout(**layout)
fig.write_html("out.html",
               config={"displayModeBar": False, "staticPlot": True},
               post_script="document.body.style.margin='0px';document.body.style.padding='0px';"
                           "document.documentElement.style.overflow='hidden';")
